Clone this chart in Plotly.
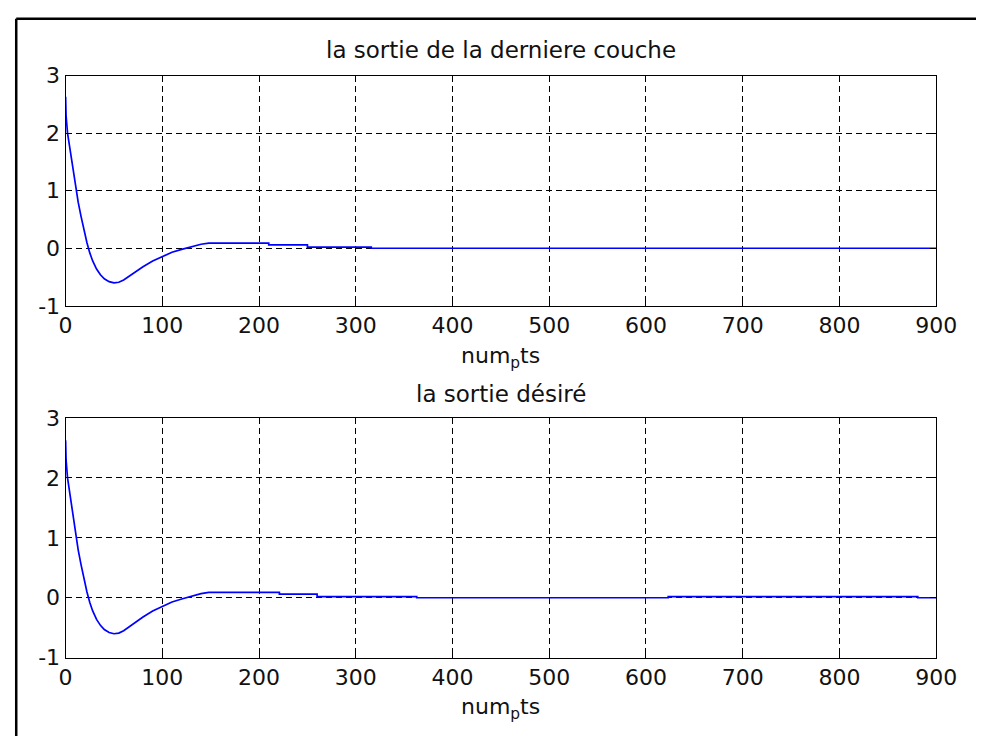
import plotly.graph_objects as go

# ---- data ----
trans_x = [0, 0.5, 2, 4, 6, 8, 10, 13, 16, 19, 22, 25, 28, 32, 36, 40, 45, 50,
           55, 60, 65, 70, 80, 90, 100, 110, 120, 130, 140, 148]
trans_y = [2.63, 2.3, 2.0, 1.78, 1.55, 1.3, 1.08, 0.8, 0.55, 0.3, 0.1, -0.08,
           -0.22, -0.36, -0.46, -0.53, -0.58, -0.60, -0.59, -0.55, -0.49, -0.43,
           -0.32, -0.22, -0.14, -0.07, -0.02, 0.03, 0.07, 0.09]

tail_top_x = [210, 210, 250, 250, 316, 316, 900]
tail_top_y = [0.09, 0.06, 0.06, 0.02, 0.02, 0.0, 0.0]

tail_bot_x = [221, 221, 260, 260, 363, 363, 623, 623, 881, 881, 900]
tail_bot_y = [0.09, 0.06, 0.06, 0.02, 0.02, 0.0, 0.0, 0.02, 0.02, 0.0, 0.0]

x_top = trans_x + tail_top_x
y_top = trans_y + tail_top_y
x_bot = trans_x + tail_bot_x
y_bot = trans_y + tail_bot_y

x_ticks = [0, 100, 200, 300, 400, 500, 600, 700, 800, 900]
y_ticks = [-1, 0, 1, 2, 3]

title_top = "la sortie de la derniere couche"
title_bot = "la sortie désiré"
x_label = "num<sub>p</sub>ts"

W, H = 997, 749
FONT = "DejaVu Sans"
FS = 22
FS_T = 23

fig = go.Figure()
fig.add_trace(go.Scatter(x=x_top, y=y_top, mode="lines",
                         line=dict(color="#0000ff", width=1.7),
                         xaxis="x", yaxis="y", showlegend=False))
fig.add_trace(go.Scatter(x=x_bot, y=y_bot, mode="lines",
                         line=dict(color="#0000ff", width=1.7),
                         xaxis="x2", yaxis="y2", showlegend=False))

def xa(anchor):
    return dict(range=[0, 900], tickvals=x_ticks, ticktext=[str(v) for v in x_ticks],
                domain=[60.3 / W, 956 / W], anchor=anchor,
                showline=True, linecolor="black", linewidth=1.2, mirror="ticks",
                ticks="inside", ticklen=6, tickcolor="black",
                showgrid=True, gridcolor="black", griddash="6px,4px", gridwidth=1,
                zeroline=False, tickfont=dict(family=FONT, size=FS, color="#111"),
                fixedrange=True)

def ya(anchor, top_px, bot_px):
    return dict(range=[-1, 3], tickvals=y_ticks, ticktext=[str(v) for v in y_ticks],
                domain=[1 - bot_px / H, 1 - top_px / H], anchor=anchor,
                showline=True, linecolor="black", linewidth=1.2, mirror="ticks",
                ticks="inside", ticklen=6, tickcolor="black",
                showgrid=True, gridcolor="black", griddash="6px,4px", gridwidth=1,
                zeroline=False, tickfont=dict(family=FONT, size=FS, color="#111"),
                fixedrange=True)

annotations = []
for txt, ypx, fs in [(title_top, 39, FS_T), (x_label, 357, FS), (title_bot, 395, FS_T), (x_label, 721, FS)]:
    annotations.append(dict(text=txt, xref="paper", yref="paper",
                            x=508 / W, y=1 - ypx / H, xanchor="center", yanchor="middle",
                            showarrow=False,
                            font=dict(family=FONT, size=fs, color="#111")))

shapes = [
    dict(type="line", xref="paper", yref="paper", x0=9.5 / W, x1=1.0, y0=1 - 7 / H, y1=1 - 7 / H,
         line=dict(color="black", width=2.5)),
    dict(type="line", xref="paper", yref="paper", x0=9.5 / W, x1=9.5 / W, y0=1 - 7 / H, y1=0,
         line=dict(color="black", width=2.5)),
]

fig.update_layout(
    width=W, height=H,
    margin=dict(l=0, r=0, t=0, b=0),
    paper_bgcolor="white", plot_bgcolor="white",
    xaxis=xa("y"), yaxis=ya("x", 65.7, 304),
    xaxis2=xa("y2"), yaxis2=ya("x2", 420, 668),
    annotations=annotations, shapes=shapes,
    showlegend=False,
)

post = """
document.body.style.margin = '0px';
document.body.style.padding = '0px';
document.documentElement.style.margin = '0px';
"""

fig.write_html("out.html", config={"displayModeBar": False}, post_script=post)
